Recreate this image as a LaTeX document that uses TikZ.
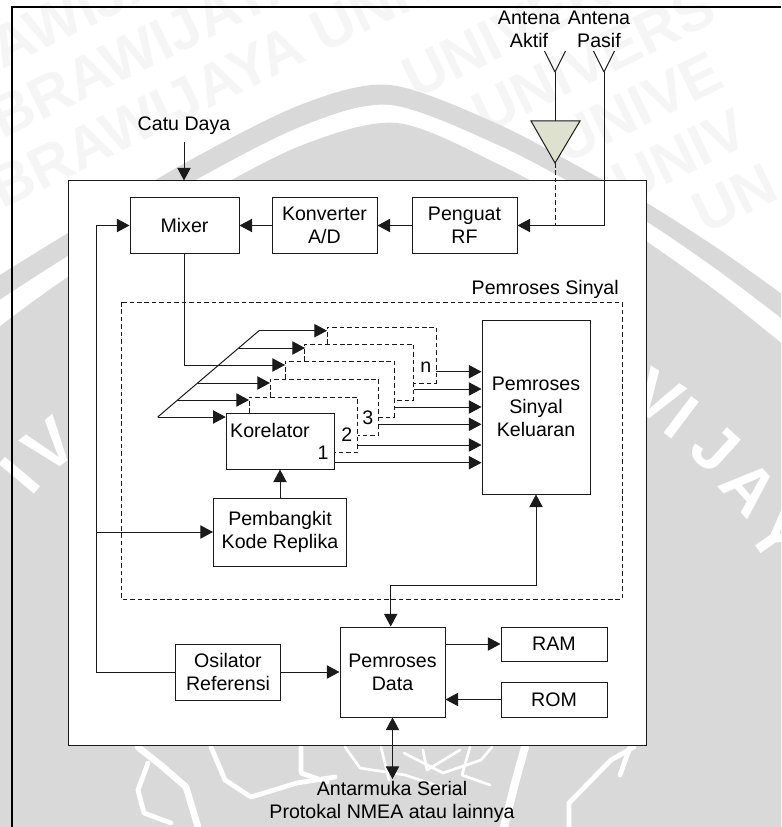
\documentclass[tikz,border=0pt]{standalone}
\usepackage{fontspec}
\setmainfont{Liberation Sans}
\usepackage{xcolor}
\usetikzlibrary{arrows.meta,calc}
\definecolor{cInk}{HTML}{1a1a1a}
\definecolor{cSeal}{HTML}{d9d9d9}
\definecolor{cMark}{HTML}{f5f5f5}
\definecolor{cAmp}{HTML}{dde1cd}
\newcommand{\lblfont}{\fontsize{14.7}{17.2}\selectfont}
\tikzset{
  wh/.style 2 args={minimum width=#1*.75pt,minimum height=#2*.75pt},
  box/.style={draw=cInk,line width=.75pt,fill=white,inner sep=0pt,align=center,font=\lblfont},
  lbl/.style={inner sep=0pt,align=center,font=\lblfont,text=black},
  maparrow/.style={-{Triangle[length=9.5pt,width=10pt]},line width=.75pt,cInk},
  biarrow/.style={{Triangle[length=9.5pt,width=10pt]}-{Triangle[length=9.5pt,width=10pt]},line width=.75pt,cInk},
  wire/.style={line width=.75pt,cInk},
  dashwire/.style={line width=.75pt,cInk,dash pattern=on 3.4pt off 2.2pt},
  markrow/.style={inner sep=0pt,anchor=base west,rotate=26,text=cMark,font=\fontsize{44}{44}\selectfont\bfseries},
  sealchar/.style={inner sep=0pt,text=white,font=\fontsize{50}{50}\selectfont\bfseries},
  sealline/.style={white,line width=3.6pt,line join=round,line cap=round},
}
\begin{document}
\begin{tikzpicture}[x=.75pt,y=-.75pt]
  \useasboundingbox (0,0) rectangle (781,827);
  \begin{scope}
    \clip (0,0) rectangle (781,827);
    \foreach \xa/\ya/\word [count=\k] in {2/70/AWIJAYA,2/140/BRAWIJAYA,2/210/BRAWIJAYA UNIV,415/100/UNIVER,485/135/UNIVERS,565/165/UNIVE,625/205/UNIV,705/235/UN}{
      \node[markrow](row\k) at (\xa,\ya){\word};}
    \fill[cSeal] plot[smooth] coordinates {(-5,278) (68,233) (185,163) (300,105) (390,85) (500,125) (603,180) (647,203) (720,250) (786,297)}
      -- (786,832) -- (-5,832) -- cycle;
    \fill[white] plot[smooth] coordinates {(-5,303) (68,256) (185,186) (300,127) (390,105) (500,146) (603,200) (647,222) (720,272) (786,322)}
      -- (786,832) -- (-5,832) -- cycle;
    \fill[cSeal] plot[smooth] coordinates {(-5,330) (68,277) (185,206) (300,146) (397,123) (500,165) (603,220) (647,242) (720,294) (786,347)}
      -- (786,832) -- (-5,832) -- cycle;
    \foreach \c/\x/\y/\r [count=\k] in {V/50/446/38,I/20/476/50,V/657/397/-32,I/682/418/-37,J/715/448/-42,A/750/488/-48,Y/777/537/-55}{
      \node[sealchar,rotate=\r](seal\k) at (\x,\y){\c};}
    \draw[sealline,line width=5pt] (138,747) -- (163,767) -- (186,787) -- (198,827);
    \draw[sealline] (148,763) -- (138,790) -- (144,813) -- (171,823);
    \draw[sealline] (211,747) -- (225,780) -- (251,797) -- (297,783) -- (335,777);
    \draw[sealline] (301,747) -- (301,773) -- (327,782);
    \draw[sealline,line width=2pt] (381,747) -- (389,780);
    \draw[sealline,line width=2pt] (404,753) -- (443,773) -- (481,760) -- (492,747);
    \draw[sealline,line width=2pt] (423,750) -- (427,770) -- (460,750);
    \draw[sealline,line width=2pt] (345,747) -- (360,768) -- (405,775) -- (450,790);
    \draw[sealline,line width=2pt] (470,747) -- (462,775) -- (490,785);
    \draw[sealline,line width=6pt] (525,747) -- (515,783) -- (504,827);
    \draw[sealline] (634,747) -- (611,760) -- (569,803) -- (569,827);
    \draw[sealline] (630,747) -- (620,775);
  \end{scope}
  \draw[black,line width=1.2pt] (781,7) -- (12,7) -- (12,827);

  \node[box,wh={578}{564}](main) at (357,463){};
  \node[box,wh={109}{55}](mixer) at (184.5,225.5){Mixer};
  \node[box,wh={105}{55}](konv) at (324.5,225.5){Konverter\\A/D};
  \node[box,wh={105}{55}](rf) at (464.5,225.5){Penguat\\RF};
  \draw[dashwire] (121,302) rectangle (622,599);
  \node[lbl,anchor=east](sinyal) at (619,289){Pemroses Sinyal};
  \node[box,wh={108}{174}](keluar) at (536,407){Pemroses\\Sinyal\\Keluaran};
  \node[box,wh={133}{68}](replika) at (280,532){Pembangkit\\Kode Replika};
  \node[box,wh={105.5}{56}](osc) at (228,672){Osilator\\Referensi};
  \node[box,wh={105}{90}](data) at (392.5,672){Pemroses\\Data};
  \node[box,wh={106}{34}](ram) at (554,644){RAM};
  \node[box,wh={106}{35}](rom) at (554,699.5){ROM};

  \node[lbl](catu) at (184,126){Catu Daya};
  \node[lbl](aktif) at (529,29.5){Antena\\Aktif};
  \node[lbl](pasif) at (599,29.5){Antena\\Pasif};
  \node[lbl](serial) at (392,802){Antarmuka Serial\\Protokal NMEA atau lainnya};

  \coordinate(catuin) at (184,142);
  \draw[maparrow](catuin) -- (catuin |- main.north);

  \coordinate(antA) at (555,72);
  \coordinate(antP) at (604,72);
  \coordinate(ampA) at (555,121);
  \coordinate(ampB) at (555,163);
  \draw[wire] (antA) -- +(-10.5,-21) (antA) -- +(10.5,-21) (antP) -- +(-10.5,-21) (antP) -- +(10.5,-21);
  \draw[wire] (antA) -- (ampA);
  \draw[wire,fill=cAmp] (531,121) -- (580,121) -- (ampB) -- cycle;
  \draw[dashwire] (ampB) -- (ampB |- rf.east);
  \draw[maparrow](antP) |- (rf.east);
  \draw[maparrow](rf) -- (konv);
  \draw[maparrow](konv) -- (mixer);

  \coordinate(bus) at (96.5,532);
  \draw[maparrow](osc.west) -| (bus) |- (mixer.west);
  \draw[maparrow](bus) -- (replika.west);
  \draw[maparrow](osc) -- (data);
  \coordinate(dataup) at (390.7,585);
  \draw[biarrow](keluar.south) |- (dataup) -- (dataup |- data.north);
  \draw[maparrow](data.east |- ram.west) -- (ram.west);
  \draw[maparrow](rom.west) -- (data.east |- rom.west);
  \coordinate(serialin) at (392.5,779);
  \draw[biarrow](data.south) -- (serialin);

  \foreach \xl/\yt/\yo/\xr/\yb/\xp in {249/397/413/357.7/452/334,270/379/397/378.7/435/357.7,285/361/379/394/417/378.7,304.7/344/361/413.7/400/394,327/327/344/436/383/413.7}{
    \draw[dashwire] (\xl,\yo) -- (\xl,\yt) -- (\xr,\yt) -- (\xr,\yb) -- (\xp,\yb);}

  \node[box,wh={108}{56}](kor) at (280,441){};
  \node[lbl](korname) at (270,430){Korelator};
  \node[lbl](k1) at (323,452.7){1};
  \node[lbl](k2) at (346.7,435){2};
  \node[lbl](k3) at (367.7,418){3};
  \node[lbl](kn) at (425.7,367){n};
  \draw[maparrow](replika) -- (kor);

  \coordinate(slantA) at (157.7,417);
  \coordinate(slantB) at (259,330.7);
  \draw[wire] (slantA) -- (slantB);
  \foreach \n/\xa/\xb/\ya in {1/157.7/225.7/417,2/177/249/400,3/198/270/383,5/239/305/348,6/259/327/330.7}{
    \coordinate(in\n) at (\xa,\ya);
    \coordinate(tip\n) at (\xb,\ya);
    \draw[maparrow](in\n) -- (tip\n);}
  \coordinate(tip4) at (285,365);
  \draw[maparrow](mixer.south) |- (tip4);

  \foreach \n/\xa/\ya in {1/334/462.7,2/357.7/445,3/378.7/424.3,4/394/407,5/413.7/389,6/436/371.7}{
    \coordinate(out\n) at (\xa,\ya);
    \draw[maparrow](out\n) -- (out\n -| keluar.west);}
\end{tikzpicture}
\end{document}
